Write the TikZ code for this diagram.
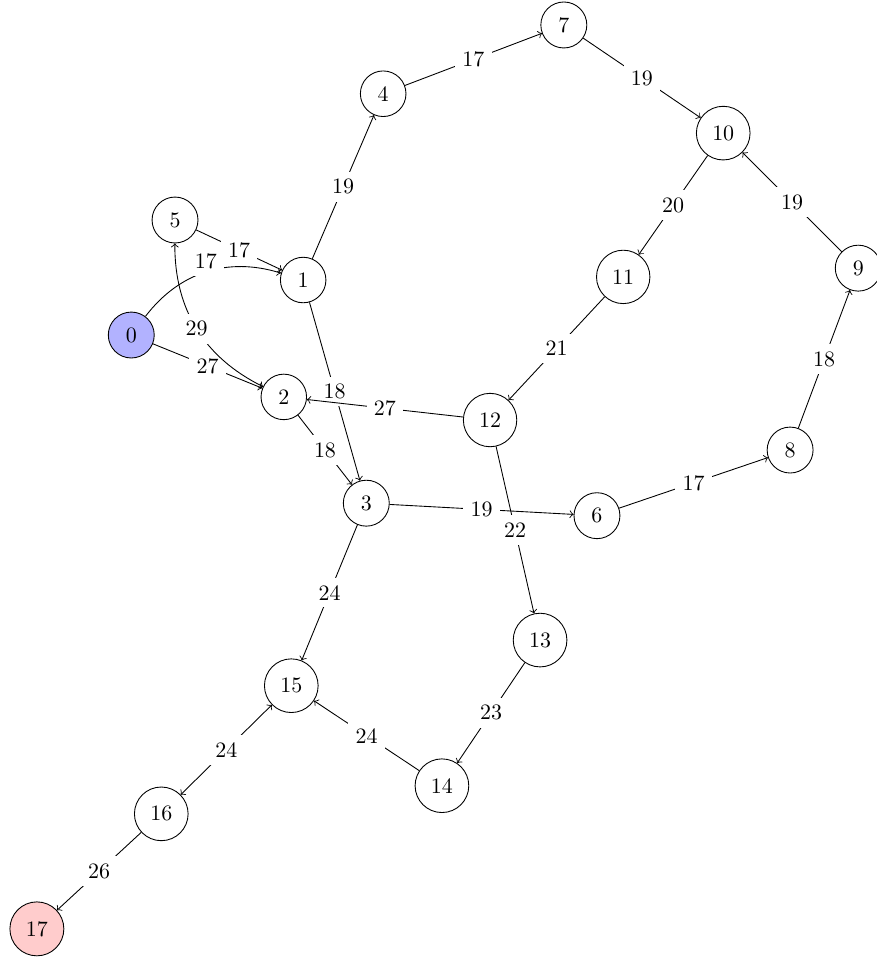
\documentclass[tikz,border=0pt]{standalone}
\usetikzlibrary{arrows.meta}

\begin{document}
\begin{tikzpicture}[
      vtx/.style={draw, circle, inner sep=4.4pt},
      lbl/.style={fill=white, midway},
      >=to]
    \useasboundingbox (0,0) rectangle (14.03,15.31);
    % vertices
    \node[vtx, fill=blue!30] (n0) at (2.10,9.95) {0};
    \node[vtx] (n1) at (4.85,10.83) {1};
    \node[vtx] (n2) at (4.54,8.96) {2};
    \node[vtx] (n3) at (5.86,7.26) {3};
    \node[vtx] (n4) at (6.13,13.81) {4};
    \node[vtx] (n5) at (2.80,11.79) {5};
    \node[vtx] (n6) at (9.55,7.06) {6};
    \node[vtx] (n7) at (9.02,14.91) {7};
    \node[vtx] (n8) at (12.64,8.11) {8};
    \node[vtx] (n9) at (13.73,11.02) {9};
    \node[vtx] (n10) at (11.57,13.18) {10};
    \node[vtx] (n11) at (9.97,10.88) {11};
    \node[vtx] (n12) at (7.84,8.59) {12};
    \node[vtx] (n13) at (8.64,5.07) {13};
    \node[vtx] (n14) at (7.07,2.74) {14};
    \node[vtx] (n15) at (4.66,4.34) {15};
    \node[vtx] (n16) at (2.58,2.29) {16};
    \node[vtx, fill=red!20] (n17) at (0.59,0.45) {17};
    % edges
    \draw[->] (n0) to[bend left=35] node[fill=white, pos=0.5, above=-2pt] {17} (n1);
    \draw[->] (n5) -- node[lbl] {17} (n1);
    \draw[->] (n0) -- node[lbl] {27} (n2);
    \draw[<->] (n5) to[bend right=32] node[lbl] {29} (n2);
    \draw[->] (n1) -- node[lbl] {19} (n4);
    \draw[->] (n4) -- node[lbl] {17} (n7);
    \draw[->] (n7) -- node[lbl] {19} (n10);
    \draw[->] (n10) -- node[lbl] {20} (n11);
    \draw[->] (n9) -- node[lbl] {19} (n10);
    \draw[->] (n8) -- node[lbl] {18} (n9);
    \draw[->] (n6) -- node[lbl] {17} (n8);
    \draw[->] (n3) -- node[lbl] {19} (n6);
    \draw[->] (n11) -- node[lbl] {21} (n12);
    \draw[->] (n1) -- node[lbl] {18} (n3);
    \draw[->] (n12) -- node[lbl] {27} (n2);
    \draw[->] (n2) -- node[lbl] {18} (n3);
    \draw[->] (n12) -- node[lbl] {22} (n13);
    \draw[->] (n13) -- node[lbl] {23} (n14);
    \draw[->] (n14) -- node[lbl] {24} (n15);
    \draw[->] (n3) -- node[lbl] {24} (n15);
    \draw[<->] (n15) -- node[lbl] {24} (n16);
    \draw[->] (n16) -- node[lbl] {26} (n17);
  \end{tikzpicture}
\end{document}
